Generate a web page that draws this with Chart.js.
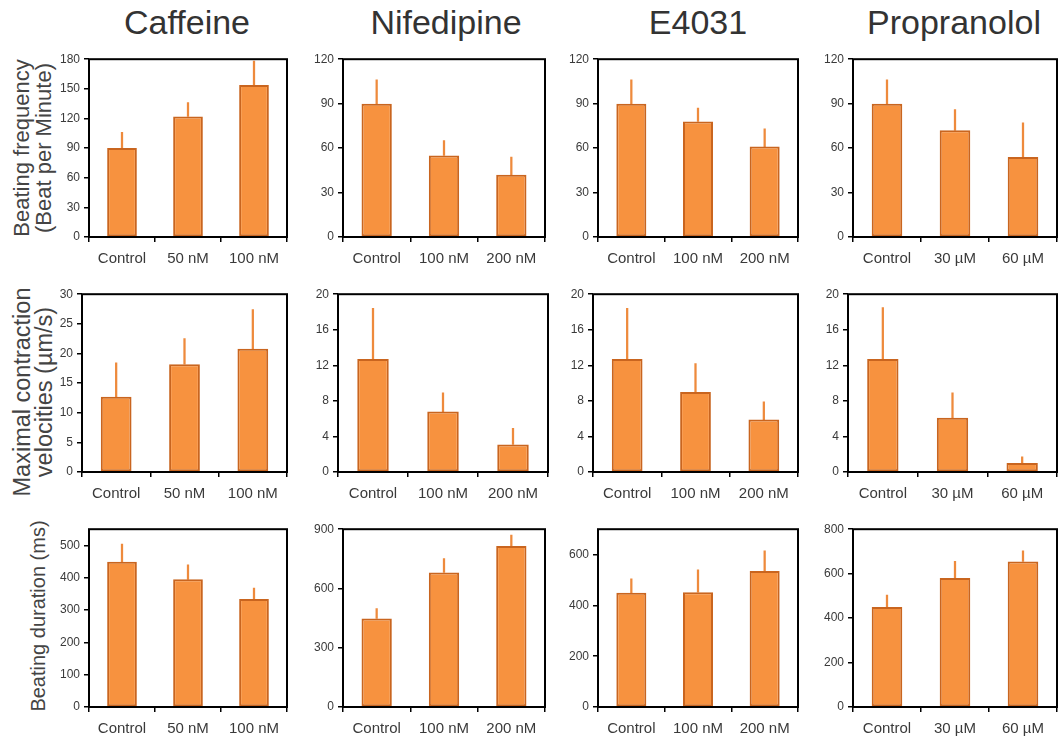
<!DOCTYPE html>
<html>
<head>
<meta charset="utf-8">
<script src="https://cdn.jsdelivr.net/npm/chart.js@4.4.0/dist/chart.umd.min.js"></script>
<style>
  body { margin: 0; background: #fff; width: 1059px; height: 749px; position: relative; overflow: hidden;
         font-family: "Liberation Sans", Arial, sans-serif; }
  .title { position: absolute; top: 5px; font-size: 34px; line-height: 34px; color: #333;
           transform: translateX(-50%); white-space: nowrap; }
  .ytitle { position: absolute; color: #444; line-height: 22px; text-align: center; white-space: nowrap;
            transform: translate(-50%, -50%) rotate(-90deg); }
  canvas { position: absolute; }
</style>
</head>
<body>
<div class="title" style="left:187px">Caffeine</div>
<div class="title" style="left:446px">Nifedipine</div>
<div class="title" style="left:698px">E4031</div>
<div class="title" style="left:954px">Propranolol</div>

<div class="ytitle" style="left:33px;top:148px;font-size:22px">Beating frequency<br>(Beat per Minute)</div>
<div class="ytitle" style="left:33px;top:392px;font-size:23.5px">Maximal contraction<br>velocities (µm/s)</div>
<div class="ytitle" style="left:38px;top:616px;font-size:20px">Beating duration (ms)</div>

<script>
// categories
const caffeineDoses = ['Control', '50 nM', '100 nM'];
const nifedipineDoses = ['Control', '100 nM', '200 nM'];
const e4031Doses = ['Control', '100 nM', '200 nM'];
const propranololDoses = ['Control', '30 µM', '60 µM'];

// beating frequency (beat per minute), mean and upper error
const freqCaffeine = [90, 122, 154];
const freqCaffeineErr = [16, 14, 24];
const freqNifedipine = [90, 55, 42];
const freqNifedipineErr = [16, 10, 12];
const freqE4031 = [90, 78, 61];
const freqE4031Err = [16, 9, 12];
const freqPropranolol = [90, 72, 54];
const freqPropranololErr = [16, 14, 23];

// maximal contraction velocities (µm/s)
const velCaffeine = [12.7, 18.2, 20.8];
const velCaffeineErr = [5.7, 4.3, 6.6];
const velNifedipine = [12.7, 6.8, 3.1];
const velNifedipineErr = [5.7, 2.1, 1.8];
const velE4031 = [12.7, 9.0, 5.9];
const velE4031Err = [5.7, 3.2, 2.0];
const velPropranolol = [12.7, 6.1, 1.0];
const velPropranololErr = [5.8, 2.8, 0.7];

// beating duration (ms)
const durCaffeine = [449, 395, 334];
const durCaffeineErr = [55, 45, 34];
const durNifedipine = [448, 681, 815];
const durNifedipineErr = [50, 70, 55];
const durE4031 = [450, 452, 535];
const durE4031Err = [55, 88, 80];
const durPropranolol = [450, 580, 655];
const durPropranololErr = [54, 75, 48];

// y-axis ranges per panel
const freqMax = [180, 120, 120, 120];
const freqStep = [30, 30, 30, 30];
const velMax = [30, 20, 20, 20];
const velStep = [5, 4, 4, 4];
const durMax = [550, 900, 700, 800];
const durStep = [100, 300, 200, 200];

// panel boxes (plot area edges)
const rowTop = [56, 291, 526];
const rowBottom = [237, 472, 707];
const boxLeft = [[89, 343, 598, 853], [82, 338, 593, 848], [89, 343, 598, 853]];
const boxRight = [[287, 545, 798, 1057], [287, 548, 798, 1057], [287, 545, 798, 1057]];

const FILL = '#F7923F';
const EDGE = '#C9651F';
const ERR = '#EE8A3C';
const TXT = '#3a3a3a';

const frame = {
    id: 'frame',
    afterDatasetsDraw(chart) {
        const a = chart.chartArea, c = chart.ctx;
        c.save();
        c.strokeStyle = '#000';
        c.lineWidth = 2;
        c.strokeRect(a.left, a.top, a.right - a.left, a.bottom - a.top);
        c.restore();
    }
};

function panel(row, col, labels, means, errs, max, step) {
    const left = boxLeft[row][col], right = boxRight[row][col];
    const top = rowTop[row], bottom = rowBottom[row];
    const axisW = 40;
    const padTop = 8, xH = 40;

    const cv = document.createElement('canvas');
    const w = axisW + (right - left) + 3;
    const h = padTop + (bottom - top) + xH;
    cv.width = w; cv.height = h;
    cv.style.left = (left - axisW) + 'px';
    cv.style.top = (top - padTop) + 'px';
    cv.style.width = w + 'px';
    cv.style.height = h + 'px';
    document.body.appendChild(cv);

    new Chart(cv, {
        type: 'bar',
        data: {
            labels: labels,
            datasets: [{
                data: means,
                backgroundColor: FILL,
                borderColor: EDGE,
                borderWidth: 2,
                borderSkipped: false,
                barPercentage: 0.45,
                categoryPercentage: 1,
                grouped: false,
                order: 1
            }, {
                data: means.map((m, i) => [m, m + errs[i]]),
                backgroundColor: ERR,
                borderWidth: 0,
                barThickness: 1.6,
                grouped: false,
                order: 2
            }]
        },
        options: {
            responsive: false,
            animation: false,
            layout: { padding: { top: padTop, right: 3, left: 0, bottom: 0 } },
            plugins: { legend: { display: false }, tooltip: { enabled: false } },
            scales: {
                x: {
                    grid: { drawOnChartArea: false, color: '#000', tickLength: 5, lineWidth: 1.5 },
                    border: { display: false },
                    ticks: { color: TXT, font: { size: 15, family: 'Liberation Sans' }, padding: 8, maxRotation: 0 },
                    afterFit: s => { s.height = xH; }
                },
                y: {
                    min: 0,
                    max: max,
                    grid: { drawOnChartArea: false, color: '#000', tickLength: 5, lineWidth: 1.5 },
                    border: { display: false },
                    ticks: {
                        stepSize: step,
                        color: TXT,
                        padding: 4,
                        font: { size: 12, family: 'Liberation Sans' },
                        callback: v => (v % step === 0 ? v : null)
                    },
                    afterFit: s => { s.width = axisW; }
                }
            }
        },
        plugins: [frame]
    });
}

// row 1: beating frequency
panel(0, 0, caffeineDoses, freqCaffeine, freqCaffeineErr, freqMax[0], freqStep[0]);
panel(0, 1, nifedipineDoses, freqNifedipine, freqNifedipineErr, freqMax[1], freqStep[1]);
panel(0, 2, e4031Doses, freqE4031, freqE4031Err, freqMax[2], freqStep[2]);
panel(0, 3, propranololDoses, freqPropranolol, freqPropranololErr, freqMax[3], freqStep[3]);

// row 2: maximal contraction velocities
panel(1, 0, caffeineDoses, velCaffeine, velCaffeineErr, velMax[0], velStep[0]);
panel(1, 1, nifedipineDoses, velNifedipine, velNifedipineErr, velMax[1], velStep[1]);
panel(1, 2, e4031Doses, velE4031, velE4031Err, velMax[2], velStep[2]);
panel(1, 3, propranololDoses, velPropranolol, velPropranololErr, velMax[3], velStep[3]);

// row 3: beating duration
panel(2, 0, caffeineDoses, durCaffeine, durCaffeineErr, durMax[0], durStep[0]);
panel(2, 1, nifedipineDoses, durNifedipine, durNifedipineErr, durMax[1], durStep[1]);
panel(2, 2, e4031Doses, durE4031, durE4031Err, durMax[2], durStep[2]);
panel(2, 3, propranololDoses, durPropranolol, durPropranololErr, durMax[3], durStep[3]);
</script>
</body>
</html>
